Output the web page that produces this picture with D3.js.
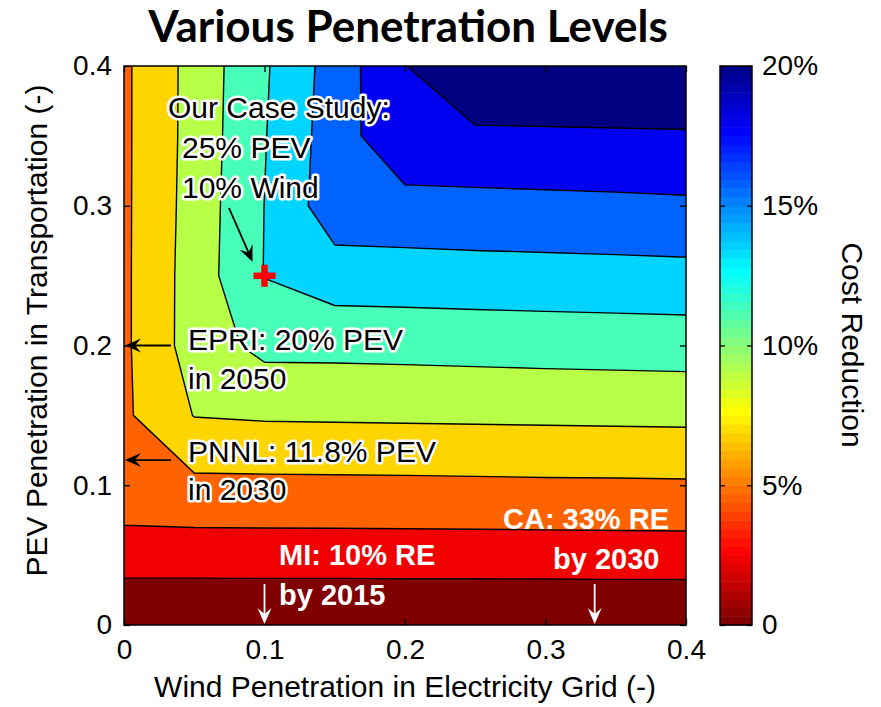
<!DOCTYPE html>
<html>
<head>
<meta charset="utf-8">
<script src="https://cdn.jsdelivr.net/npm/d3@7"></script>
<style>
  html, body { margin: 0; padding: 0; background: #fff; }
  svg { display: block; }
  text { font-family: "Liberation Sans", Arial, sans-serif; fill: #000; }
</style>
</head>
<body>
<svg id="chart" width="881" height="707"></svg>
<script>
// sample grid
const windLevels = [0, 0.05, 0.1, 0.15, 0.2, 0.25, 0.3, 0.35, 0.4];
const pevLevels = [0, 0.05, 0.1, 0.15, 0.2, 0.25, 0.3, 0.35, 0.4];

// cost reduction (%), one row per PEV level (bottom to top), columns follow windLevels
const costReduction = [
  [0, 0, 0, 0, 0, 0, 0, 0, 0],
  [2.98, 2.98, 3.00, 3.00, 3.02, 3.02, 3.04, 3.06, 3.07],
  [5.36, 5.56, 5.58, 5.60, 5.62, 5.66, 5.70, 5.72, 5.76],
  [5.68, 8.06, 8.22, 8.26, 8.30, 8.34, 8.38, 8.42, 8.46],
  [5.66, 8.92, 10.56, 10.58, 10.64, 10.72, 10.80, 10.86, 10.92],
  [5.66, 8.90, 12.06, 13.06, 13.12, 13.20, 13.26, 13.32, 13.40],
  [5.66, 8.80, 12.02, 15.20, 15.32, 15.42, 15.50, 15.58, 15.68],
  [5.66, 8.72, 11.90, 15.04, 17.60, 17.62, 17.68, 17.74, 17.80],
  [5.66, 8.70, 11.76, 14.88, 17.94, 20.10, 20.06, 20.04, 20.00]
];

const contourLevels = [0, 2, 4, 6, 8, 10, 12, 14, 16, 18];
const axisTicks = [0, 0.1, 0.2, 0.3, 0.4];
const colorbarTicks = [0, 5, 10, 15, 20];
const colorbarLabels = ['0', '5%', '10%', '15%', '20%'];

const caseStudy = { wind: 0.10, pev: 0.25, lines: ['Our Case Study:', '25% PEV', '10% Wind'] };
const pevTargets = [
  { pev: 0.20, lines: ['EPRI: 20% PEV', 'in 2050'] },
  { pev: 0.118, lines: ['PNNL: 11.8% PEV', 'in 2030'] }
];
const windTargets = [
  { wind: 0.10, lines: ['MI: 10% RE', 'by 2015'] },
  { wind: 0.335, lines: ['CA: 33% RE', 'by 2030'] }
];

// MATLAB-style jet, t=0 dark blue -> t=1 dark red
function jet(t) {
  const c = v => Math.max(0, Math.min(1, v));
  const r = c(1.5 - Math.abs(4 * t - 3));
  const g = c(1.5 - Math.abs(4 * t - 2));
  const b = c(1.5 - Math.abs(4 * t - 1));
  return d3.rgb(r * 255, g * 255, b * 255).toString();
}

const svg = d3.select('#chart');
const plot = { left: 124, right: 686, top: 66, bottom: 625 };
const cbar = { left: 720, right: 752 };

const x = d3.scaleLinear().domain([0, 0.4]).range([plot.left, plot.right]);
const y = d3.scaleLinear().domain([0, 0.4]).range([plot.bottom, plot.top]);
const bandColor = d3.scaleSequential(jet).domain([contourLevels[contourLevels.length - 1], contourLevels[0]]);

// contour geometry lives in grid units; sample i sits at i + 0.5
const nx = windLevels.length, ny = pevLevels.length;
const gx = d3.scaleLinear().domain([0.5, nx - 0.5]).range([x(windLevels[0]), x(windLevels[nx - 1])]);
const gy = d3.scaleLinear().domain([0.5, ny - 0.5]).range([y(pevLevels[0]), y(pevLevels[ny - 1])]);
const path = d3.geoPath(d3.geoTransform({
  point(px, py) { this.stream.point(gx(px), gy(py)); }
}));

const contours = d3.contours()
  .size([nx, ny])
  .thresholds(contourLevels)(costReduction.flat());

svg.append('clipPath').attr('id', 'plot-clip')
  .append('rect')
  .attr('x', plot.left).attr('y', plot.top)
  .attr('width', plot.right - plot.left).attr('height', plot.bottom - plot.top);

const filled = svg.append('g').attr('clip-path', 'url(#plot-clip)');
filled.selectAll('path')
  .data(contours)
  .join('path')
  .attr('d', path)
  .attr('fill', d => bandColor(d.value))
  .attr('stroke', d => d.value > contourLevels[0] ? '#000' : 'none')
  .attr('stroke-width', 1.4)
  .attr('stroke-linejoin', 'round');

// axes (ticks point inward like MATLAB)
const fmt = d => d === 0 ? '0' : d3.format('.1f')(d);

function styleAxis(g) {
  g.select('.domain').remove();
  g.selectAll('.tick line').attr('stroke', '#000').attr('stroke-width', 1.3);
  g.selectAll('.tick text').attr('font-size', 28).attr('fill', '#000')
    .attr('font-family', '"Liberation Sans", Arial, sans-serif');
}

svg.append('g').attr('transform', `translate(0,${plot.bottom})`)
  .call(d3.axisBottom(x).tickValues(axisTicks).tickFormat(fmt).tickSize(-6).tickPadding(12))
  .call(styleAxis)
  .call(g => g.selectAll('.tick text').attr('dy', '0.71em').attr('y', 14));
svg.append('g').attr('transform', `translate(0,${plot.top})`)
  .call(d3.axisTop(x).tickValues(axisTicks).tickFormat('').tickSize(-6))
  .call(styleAxis);
svg.append('g').attr('transform', `translate(${plot.left},0)`)
  .call(d3.axisLeft(y).tickValues(axisTicks).tickFormat(fmt).tickSize(-6).tickPadding(12))
  .call(styleAxis);
svg.append('g').attr('transform', `translate(${plot.right},0)`)
  .call(d3.axisRight(y).tickValues(axisTicks).tickFormat('').tickSize(-6))
  .call(styleAxis);

svg.append('rect')
  .attr('x', plot.left).attr('y', plot.top)
  .attr('width', plot.right - plot.left).attr('height', plot.bottom - plot.top)
  .attr('fill', 'none').attr('stroke', '#000').attr('stroke-width', 1.5);

// annotations
function arrow(g, x1, y1, x2, y2, color) {
  const a = Math.atan2(y2 - y1, x2 - x1);
  const L = 16, W = 14, B = 10;
  const rot = (dx, dy) => [x2 + dx * Math.cos(a) - dy * Math.sin(a), y2 + dx * Math.sin(a) + dy * Math.cos(a)];
  const end = rot(-B, 0);
  g.append('line')
    .attr('x1', x1).attr('y1', y1).attr('x2', end[0]).attr('y2', end[1])
    .attr('stroke', color).attr('stroke-width', 1.8);
  g.append('path')
    .attr('d', 'M' + [[x2, y2], rot(-L, W / 2), rot(-B, 0), rot(-L, -W / 2)].map(p => p.join(',')).join('L') + 'Z')
    .attr('fill', color);
}

function haloText(g, lines, tx, baselines, fontSize) {
  lines.forEach((s, i) => {
    g.append('text')
      .attr('x', tx).attr('y', baselines[i])
      .attr('font-size', fontSize)
      .attr('stroke', '#fff').attr('stroke-width', 5)
      .attr('stroke-linejoin', 'round')
      .attr('paint-order', 'stroke')
      .text(s);
  });
}

const notes = svg.append('g');

// case study marker
const cx = x(caseStudy.wind), cy = y(caseStudy.pev);
notes.append('path')
  .attr('d', `M${cx - 11},${cy}H${cx + 11}M${cx},${cy - 11}V${cy + 11}`)
  .attr('stroke', '#ff0000').attr('stroke-width', 6.5);
haloText(notes, [caseStudy.lines[0]], 168, [117.5], 30);
haloText(notes, caseStudy.lines.slice(1), 182, [158, 198], 30);
arrow(notes, 229, 208, cx - 12, cy - 14, '#000');

// PEV targets: arrows into the y axis
pevTargets.forEach((t, i) => {
  const ty = y(t.pev);
  arrow(notes, 171, ty, plot.left + 1, ty, '#000');
  const base = i === 0 ? 350 : 461.5;
  haloText(notes, t.lines, 188, [base, base + 38.5], 30);
});

// wind targets: white arrows down to the x axis
windTargets.forEach((t, i) => {
  const tx = x(t.wind);
  arrow(notes, tx, 584, tx, plot.bottom - 1, '#fff');
  const pos = i === 0 ? { x: 279, b: [565, 605] } : { x: 503, b: [529, 569] };
  t.lines.forEach((s, k) => {
    notes.append('text')
      .attr('x', i === 0 ? pos.x : (k === 0 ? 503 : 553))
      .attr('y', pos.b[k])
      .attr('font-size', 29).attr('font-weight', 'bold')
      .style('fill', '#fff')
      .text(s);
  });
});

// colorbar
const cb = d3.scaleLinear().domain([0, 20]).range([plot.bottom, plot.top]);
const steps = d3.range(64);
svg.append('g').selectAll('rect')
  .data(steps)
  .join('rect')
  .attr('x', cbar.left)
  .attr('width', cbar.right - cbar.left)
  .attr('y', k => cb((k + 1) * 20 / 64))
  .attr('height', k => cb(k * 20 / 64) - cb((k + 1) * 20 / 64) + 0.5)
  .attr('fill', k => jet((64 - k) / 64));

svg.append('g').attr('transform', `translate(${cbar.right},0)`)
  .call(d3.axisRight(cb).tickValues(colorbarTicks).tickFormat((d, i) => colorbarLabels[i]).tickSize(-5).tickPadding(10))
  .call(styleAxis);
svg.append('g').attr('transform', `translate(${cbar.left},0)`)
  .call(d3.axisLeft(cb).tickValues(colorbarTicks).tickFormat('').tickSize(-5))
  .call(styleAxis);
svg.append('rect')
  .attr('x', cbar.left).attr('y', plot.top)
  .attr('width', cbar.right - cbar.left).attr('height', plot.bottom - plot.top)
  .attr('fill', 'none').attr('stroke', '#000').attr('stroke-width', 1.5);

// titles
svg.append('text')
  .attr('x', 408).attr('y', 42)
  .attr('text-anchor', 'middle')
  .attr('font-size', 44).attr('font-weight', 'bold')
  .style('font-family', 'Lato, "Open Sans", sans-serif')
  .text('Various Penetration Levels');

svg.append('text')
  .attr('x', (plot.left + plot.right) / 2).attr('y', 697)
  .attr('text-anchor', 'middle')
  .attr('font-size', 30)
  .text('Wind Penetration in Electricity Grid (-)');

svg.append('text')
  .attr('transform', `translate(47,${(plot.top + plot.bottom) / 2 - 15}) rotate(-90)`)
  .attr('text-anchor', 'middle')
  .attr('font-size', 30)
  .text('PEV Penetration in Transportation (-)');

svg.append('text')
  .attr('transform', `translate(842,345) rotate(90)`)
  .attr('text-anchor', 'middle')
  .attr('font-size', 30)
  .text('Cost Reduction');
</script>
</body>
</html>
